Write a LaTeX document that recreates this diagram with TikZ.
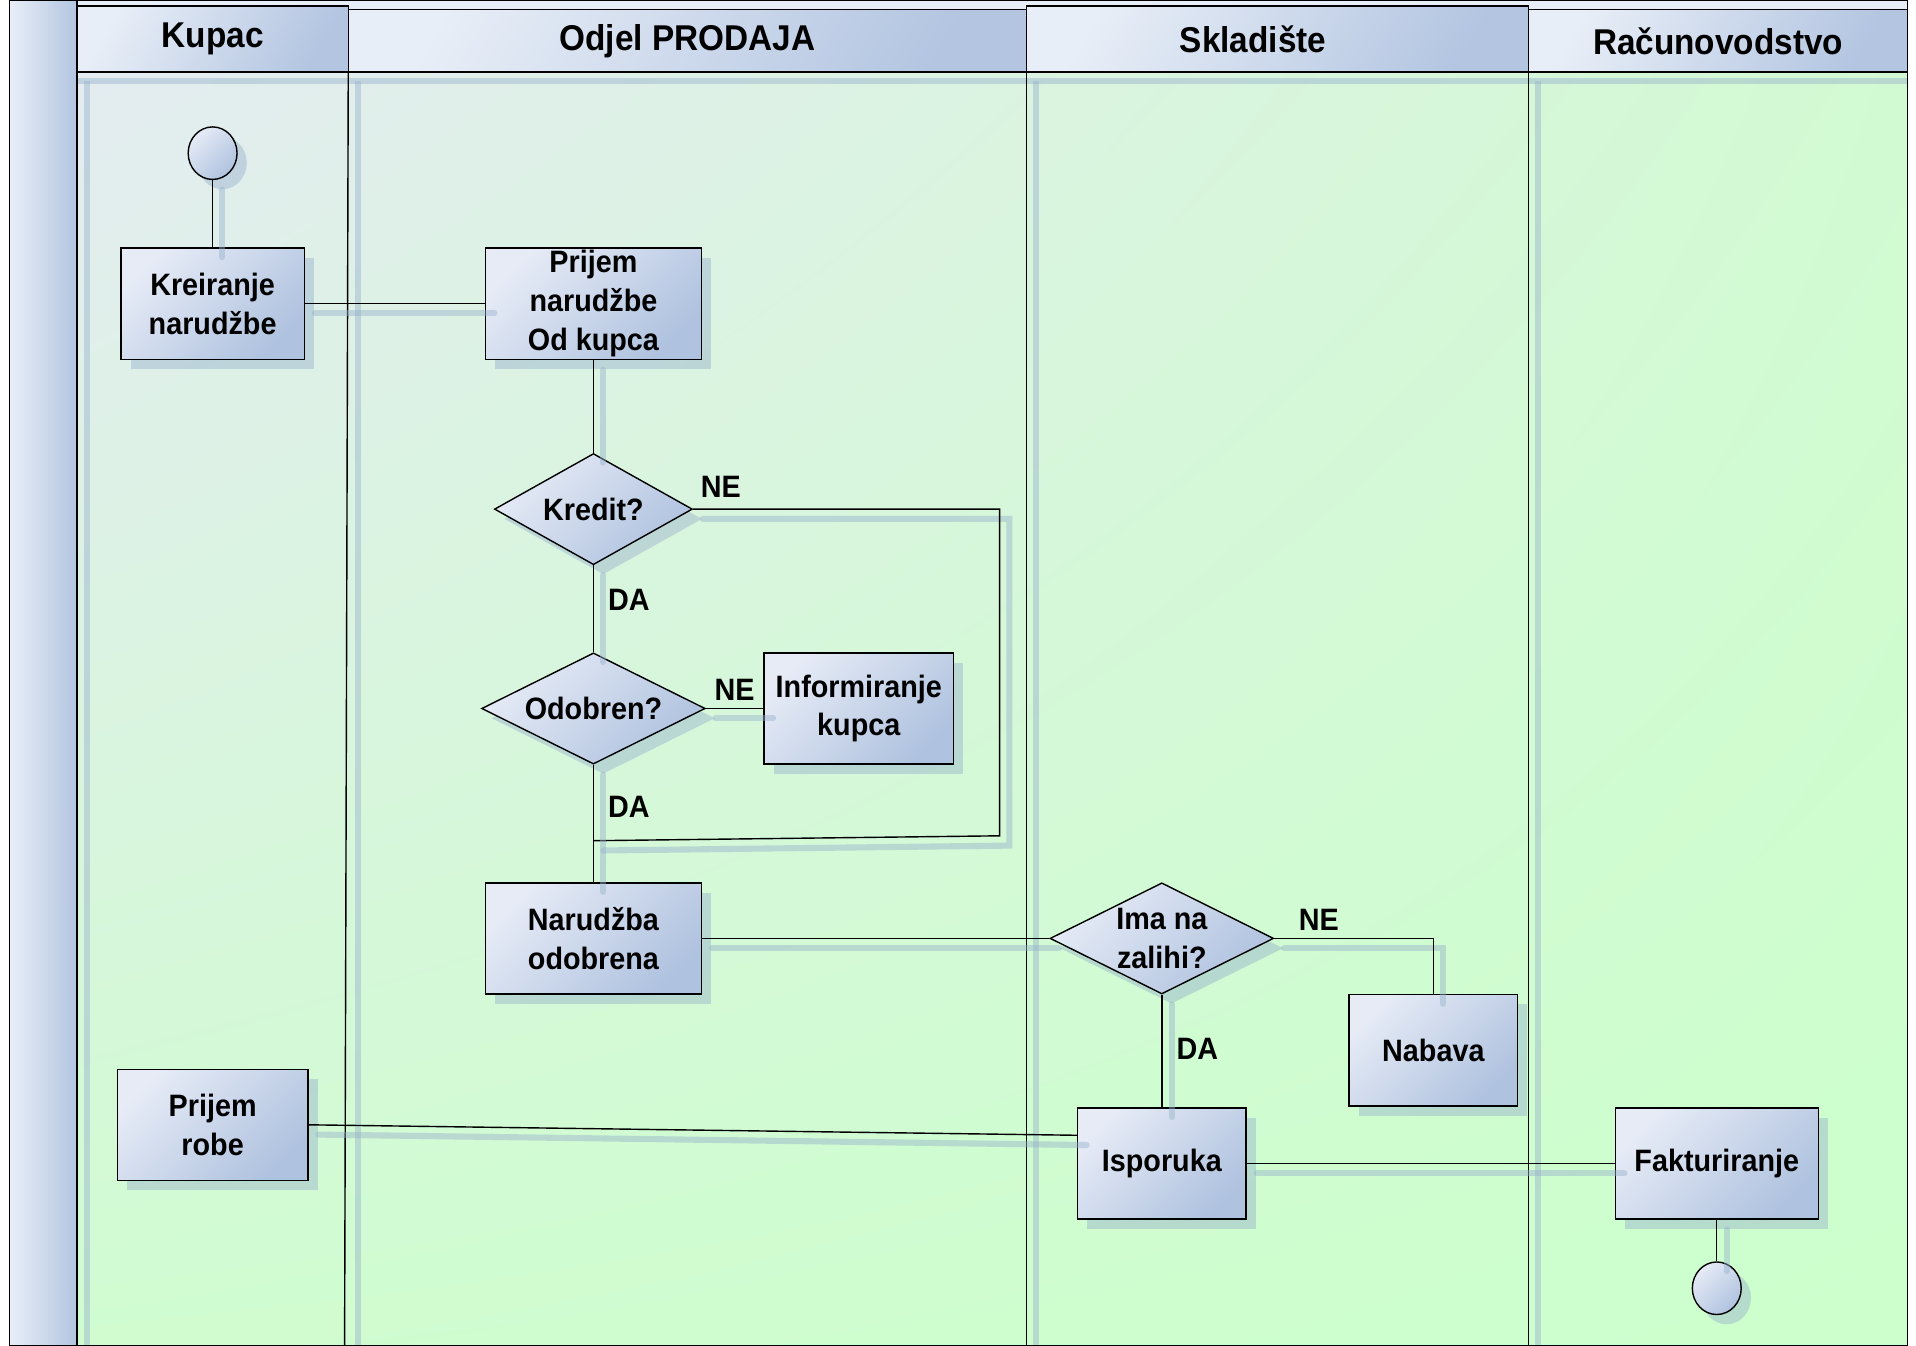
\documentclass[tikz,border=0pt]{standalone}
\usepackage{fontspec}
\setmainfont{Liberation Sans}[FakeStretch=0.93]
\usepackage{tikz}
\usetikzlibrary{shapes.geometric,shadows,shadings,positioning,calc}

\newlength\dpx
\setlength\dpx{0.0122194cm}

\definecolor{boxlight}{HTML}{E6EBF6}
\definecolor{boxdark}{HTML}{AFC2DF}
\definecolor{headlight}{HTML}{E8EEF7}
\definecolor{headdark}{HTML}{B3C5E1}
\definecolor{shadowcol}{HTML}{97B1CC}
\definecolor{bgtopleft}{HTML}{E4ECF1}
\definecolor{bgtopright}{HTML}{D2FAD2}
\definecolor{bgbotleft}{HTML}{D0FCD0}
\definecolor{bggreen}{HTML}{CCFFCC}

\begin{document}
\begin{tikzpicture}[
    x=\dpx, y=-\dpx,
    procbox/.style={
        rectangle, draw, thin,
        top color=boxlight, bottom color=boxdark, shading angle=45,
        drop shadow={shadow xshift=8\dpx, shadow yshift=-8\dpx, fill=shadowcol, opacity=0.45},
        minimum height=91\dpx,
        align=center,
        inner xsep=2pt, inner ysep=0pt,
        font={\fontsize{8.8}{11}\selectfont\bfseries}
    },
    decnode/.style={
        diamond, draw, thin,
        aspect=2,
        top color=boxlight, bottom color=boxdark, shading angle=45,
        drop shadow={shadow xshift=8\dpx, shadow yshift=-8\dpx, fill=shadowcol, opacity=0.45},
        minimum height=91\dpx,
        align=center,
        inner sep=0pt,
        font={\fontsize{8.8}{11}\selectfont\bfseries}
    },
    endpt/.style={
        ellipse, draw, thin,
        top color=boxlight, bottom color=boxdark, shading angle=45,
        drop shadow={shadow xshift=8\dpx, shadow yshift=-8\dpx, fill=shadowcol, opacity=0.45},
        minimum width=40\dpx,
        minimum height=43\dpx,
        inner sep=0pt
    },
    lanehead/.style={
        rectangle, draw, thin,
        top color=headlight, bottom color=headdark, shading angle=60,
        inner sep=0pt,
        font={\fontsize{10.2}{12}\selectfont\bfseries}
    },
    laneshadow/.style={draw=shadowcol, draw opacity=0.45, line width=5\dpx},
    conn/.style={
        draw=black, thin,
        preaction={draw=shadowcol, draw opacity=0.45, line width=5\dpx, line cap=round,
            transform canvas={xshift=8\dpx, yshift=-8\dpx}}
    },
    lbl/.style={font={\fontsize{8.8}{11}\selectfont\bfseries}, inner sep=2pt},
]

\useasboundingbox (0,0) rectangle (1568,1101);

% lanes
\fill[white] (0,0) rectangle (1568,1101);
\fill[headlight] (8,0) rectangle (1561,1101);
\shade[upper left=bgtopleft, upper right=bgtopright, lower left=bgbotleft, lower right=bggreen]
    (63,59) rectangle (1561,1101);
\shade[left color=headlight, right color=headdark] (8,0) rectangle (63,1101);
\foreach \lx in {71,293,848,1259}
    \draw[laneshadow] (\lx,66) -- (\lx,1101);
\draw[laneshadow] (63,66) -- (1561,66);
\draw (8,0) rectangle (1561,1101);
\draw (63,0) -- (63,1101);
\draw (285,59) -- (282,1101);
\draw (840,59) -- (840,1101);
\draw (1251,59) -- (1251,1101);

\node[lanehead, minimum width=222\dpx, minimum height=54\dpx] (hkupac) at (174,32) {Kupac};
\node[lanehead, minimum width=555\dpx, minimum height=51\dpx] (hprodaja) at (562.5,33.5) {Odjel PRODAJA};
\node[lanehead, minimum width=411\dpx, minimum height=54\dpx] (hskladiste) at (1045.5,32) {Skladište\hspace*{40\dpx}};
\node[lanehead, minimum width=310\dpx, minimum height=51\dpx] (hracun) at (1406,33.5) {Računovodstvo};

% Kupac
\node[procbox, minimum width=150\dpx] (kreiranje) at (174,248.5) {Kreiranje\\narudžbe};
\node[endpt, above=55\dpx of kreiranje] (start) {};
\node[procbox, minimum width=156\dpx] (robe) at (174,920.5) {Prijem\\robe};

% Odjel PRODAJA
\node[procbox, minimum width=177\dpx, right=147\dpx of kreiranje] (prijemnar) {Prijem\\narudžbe\\Od kupca};
\node[decnode, minimum width=162\dpx, below=76\dpx of prijemnar] (kredit) {Kredit?};
\node[decnode, minimum width=183\dpx, below=71\dpx of kredit] (odobren) {Odobren?};
\node[procbox, minimum width=155\dpx, right=47\dpx of odobren] (info) {Informiranje\\kupca};
\node[procbox, minimum width=177\dpx, below=96\dpx of odobren] (odobrena) {Narudžba\\odobrena};

% Skladiste
\node[decnode, minimum width=183\dpx, inner ysep=-3pt, right=284\dpx of odobrena] (zalihe) {Ima na\\zalihi?};
\node[procbox, minimum width=138\dpx] (nabava) at (1173,859.5) {Nabava};
\node[procbox, minimum width=138\dpx, below=92\dpx of zalihe] (isporuka) {Isporuka};

% Racunovodstvo
\node[procbox, minimum width=166\dpx, right=301\dpx of isporuka] (faktura) {Fakturiranje};
\node[endpt, below=34\dpx of faktura] (stop) {};

\coordinate (kut) at (818,684);
\coordinate (spoj) at (odobren.south |- 0,688);

% connectors
\draw[conn] (start) -- (kreiranje);
\draw[conn] (kreiranje) -- (prijemnar);
\draw[conn] (prijemnar) -- (kredit);
\draw[conn] (kredit) -- node[lbl, right=2pt, pos=0.4] {DA} (odobren);
\draw[conn] (kredit.east) node[lbl, above right=1pt and 0pt] {NE} -| (kut) -- (spoj);
\draw[conn] (odobren) -- node[lbl, above] {NE} (info);
\draw[conn] (odobren) -- node[lbl, right=2pt, pos=0.36] {DA} (odobrena);
\draw[conn] (odobrena) -- (zalihe);
\draw[conn] (zalihe.east) -| node[lbl, above, pos=0.14] {NE} (nabava.north);
\draw[conn] (zalihe) -- node[lbl, right=2pt, pos=0.48] {DA} (isporuka);
\draw[conn] (robe.east) -- ($(isporuka.north west)!0.25!(isporuka.south west)$);
\draw[conn] (isporuka) -- (faktura);
\draw[conn] (faktura) -- (stop);

\end{tikzpicture}
\end{document}
